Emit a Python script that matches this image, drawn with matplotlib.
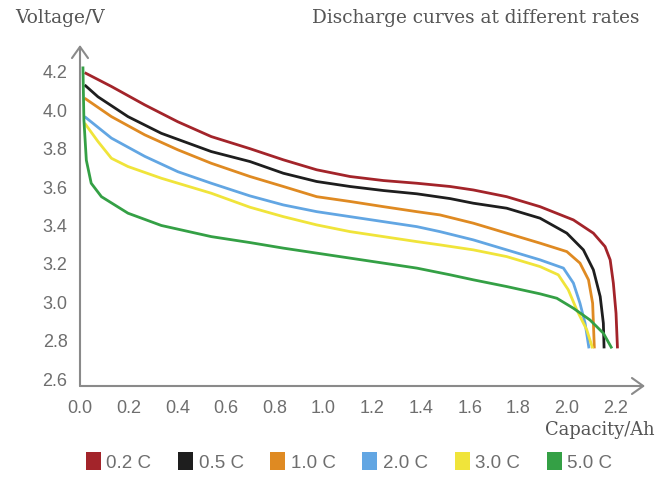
import matplotlib
matplotlib.use("Agg")
import matplotlib.pyplot as plt
from matplotlib.patches import Patch

# ---- data ----
rates = ["0.2 C", "0.5 C", "1.0 C", "2.0 C", "3.0 C", "5.0 C"]
colors = ["#a3242a", "#1e1e1e", "#df8a22", "#62a6e3", "#f0e43a", "#34a045"]

cap_02 = [0.019, 0.129, 0.266, 0.402, 0.539, 0.698, 0.835, 0.972, 1.109, 1.246, 1.383, 1.52,
          1.615, 1.752, 1.889, 2.026, 2.108, 2.156, 2.177, 2.19, 2.201, 2.207]
v_02 = [4.196, 4.124, 4.028, 3.94, 3.863, 3.80, 3.742, 3.69, 3.655, 3.634, 3.62, 3.603,
        3.585, 3.55, 3.498, 3.429, 3.36, 3.29, 3.221, 3.10, 2.943, 2.76]

cap_05 = [0.019, 0.074, 0.197, 0.334, 0.539, 0.698, 0.835, 0.972, 1.109, 1.246, 1.383, 1.52,
          1.615, 1.752, 1.889, 1.999, 2.067, 2.108, 2.136, 2.149, 2.152]
v_05 = [4.132, 4.07, 3.967, 3.88, 3.785, 3.733, 3.672, 3.629, 3.603, 3.582, 3.565, 3.54,
        3.516, 3.49, 3.438, 3.36, 3.273, 3.169, 3.03, 2.891, 2.76]

cap_10 = [0.019, 0.129, 0.266, 0.402, 0.539, 0.698, 0.835, 0.972, 1.109, 1.246, 1.383, 1.478,
          1.615, 1.752, 1.889, 1.999, 2.053, 2.088, 2.105, 2.112]
v_10 = [4.063, 3.967, 3.872, 3.794, 3.724, 3.655, 3.603, 3.55, 3.525, 3.498, 3.472, 3.455,
        3.412, 3.36, 3.308, 3.264, 3.204, 3.117, 2.995, 2.76]

cap_20 = [0.019, 0.129, 0.266, 0.402, 0.539, 0.698, 0.835, 0.972, 1.109, 1.246, 1.383, 1.478,
          1.615, 1.752, 1.889, 1.985, 2.026, 2.053, 2.074, 2.09]
v_20 = [3.967, 3.855, 3.76, 3.68, 3.62, 3.554, 3.507, 3.472, 3.446, 3.42, 3.394, 3.368,
        3.325, 3.273, 3.221, 3.178, 3.10, 2.995, 2.891, 2.76]

cap_30 = [0.019, 0.074, 0.129, 0.197, 0.334, 0.539, 0.698, 0.835, 0.972, 1.109, 1.246, 1.383,
          1.478, 1.615, 1.752, 1.889, 1.964, 2.005, 2.04, 2.081, 2.105]
v_30 = [3.933, 3.837, 3.75, 3.707, 3.646, 3.568, 3.495, 3.446, 3.403, 3.368, 3.342, 3.316,
        3.299, 3.273, 3.238, 3.186, 3.143, 3.065, 2.96, 2.856, 2.76]

cap_50 = [0.012, 0.016, 0.026, 0.046, 0.088, 0.197, 0.334, 0.539, 0.698, 0.835, 0.972, 1.109,
          1.246, 1.383, 1.52, 1.615, 1.752, 1.889, 1.958, 2.026, 2.094, 2.149, 2.184]
v_50 = [4.228, 3.95, 3.74, 3.62, 3.55, 3.464, 3.40, 3.342, 3.311, 3.282, 3.256, 3.23,
        3.204, 3.178, 3.143, 3.117, 3.082, 3.044, 3.021, 2.969, 2.908, 2.839, 2.76]

caps = [cap_02, cap_05, cap_10, cap_20, cap_30, cap_50]
volts = [v_02, v_05, v_10, v_20, v_30, v_50]

x_ticks = [0.0, 0.2, 0.4, 0.6, 0.8, 1.0, 1.2, 1.4, 1.6, 1.8, 2.0, 2.2]
y_ticks = [2.6, 2.8, 3.0, 3.2, 3.4, 3.6, 3.8, 4.0, 4.2]

# ---- figure ----
W, H = 670, 495
fig = plt.figure(figsize=(W / 100, H / 100), dpi=100)
ax = fig.add_axes([80 / W, 1 - 386 / H, (645 - 80) / W, (386 - 45) / H])
ax.set_xlim(0, 2.32)
ax.set_ylim(2.564, 4.34)

for c, v, col in zip(caps, volts, colors):
    ax.plot(c, v, color=col, lw=2.0, solid_joinstyle="round", solid_capstyle="butt")

gray = "#8a8a8a"
tick_col = "#6e6e6e"
for s in ax.spines.values():
    s.set_visible(False)

arrow_style = "->,head_length=0.45,head_width=0.32"
ax.annotate("", xy=(0, 1), xytext=(0, 0), xycoords="axes fraction",
            arrowprops=dict(arrowstyle=arrow_style, color=gray, lw=1.5,
                            mutation_scale=18, shrinkA=0, shrinkB=0))
ax.annotate("", xy=(1, 0), xytext=(0, 0), xycoords="axes fraction",
            arrowprops=dict(arrowstyle=arrow_style, color=gray, lw=1.5,
                            mutation_scale=18, shrinkA=0, shrinkB=0))

ax.set_xticks(x_ticks)
ax.set_xticklabels([f"{t:.1f}" for t in x_ticks])
ax.set_yticks(y_ticks)
ax.set_yticklabels([f"{t:.1f}" for t in y_ticks])
ax.tick_params(axis="both", length=0, labelsize=13, colors=tick_col,
               labelfontfamily="Liberation Sans")
ax.tick_params(axis="x", pad=10)
ax.tick_params(axis="y", pad=9)

serif = "DejaVu Serif"
fig.text(15 / W, 1 - 18 / H, "Voltage/V", ha="left", va="center",
         fontsize=13.4, family=serif, color="#555555")
fig.text(640 / W, 1 - 18 / H, "Discharge curves at different rates", ha="right",
         va="center", fontsize=13.3, family=serif, color="#555555")
fig.text(655 / W, 1 - 430 / H, "Capacity/Ah", ha="right", va="center",
         fontsize=12.9, family=serif, color="#555555")

handles = [Patch(facecolor=col, edgecolor="none", label=r) for col, r in zip(colors, rates)]
leg = fig.legend(handles=handles, loc="center", bbox_to_anchor=(349 / W, 1 - 462 / H),
                 ncol=6, frameon=False, handlelength=0.8, handleheight=1.1,
                 handletextpad=0.3, columnspacing=1.42,
                 prop={"family": "Liberation Sans", "size": 13.5})
for t in leg.get_texts():
    t.set_color(tick_col)

fig.savefig("out.png", dpi=100, facecolor="white")
